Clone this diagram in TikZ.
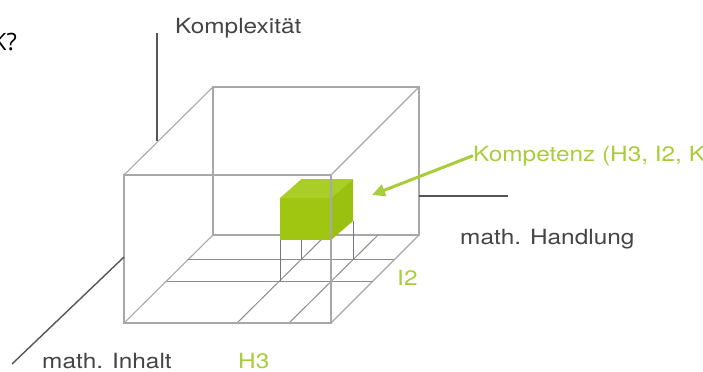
\documentclass[tikz,border=0pt]{standalone}
\usepackage{fontspec}
\setmainfont{TeX Gyre Heros}
\newfontfamily\qfont{Open Sans}
\usetikzlibrary{arrows.meta}
\definecolor{boxgray}{RGB}{168,168,168}
\definecolor{gridgray}{RGB}{140,140,140}
\definecolor{leggray}{RGB}{112,118,132}
\definecolor{axisgray}{RGB}{85,85,85}
\definecolor{txtgray}{RGB}{68,68,68}
\definecolor{lbgreen}{RGB}{168,204,58}
\definecolor{cubefront}{RGB}{160,198,18}
\definecolor{cubetop}{RGB}{170,205,40}
\definecolor{cuberight}{RGB}{154,192,16}
\tikzset{
  boxline/.style={draw=boxgray, line width=1.1bp},
  gridline/.style={draw=gridgray, line width=1bp},
  legline/.style={draw=leggray, line width=1bp},
  axisline/.style={draw=axisgray, line width=1.4bp},
  lbl/.style={inner sep=0pt, xscale=1.165, text=txtgray, font=\fontsize{21}{25}\selectfont},
  glbl/.style={inner sep=0pt, xscale=1.165, text=lbgreen, font=\fontsize{21}{25}\selectfont},
  garrow/.style={draw=lbgreen, line width=3bp, -{Triangle[length=13bp,width=12bp]}}
}
\begin{document}
\begin{tikzpicture}[x=1bp,y=-1bp]
\useasboundingbox (0,0) rectangle (703,371);
\clip (0,0) rectangle (703,371);
% box corners
\coordinate (FBL) at (124,323);
\coordinate (FBR) at (331,323);
\coordinate (FTR) at (331,175);
\coordinate (FTL) at (124,175);
\coordinate (BBL) at (213,235);
\coordinate (BBR) at (419,235);
\coordinate (BTR) at (419,87);
\coordinate (BTL) at (213,87);
% back face and connecting edges
\draw[boxline] (BBL) -- (BTL) -- (BTR) -- (BBR) -- cycle;
\draw[boxline] (FTL) -- (BTL);
\draw[boxline] (FTR) -- (BTR);
\draw[boxline] (FBL) -- (BBL);
\draw[boxline] (FBR) -- (BBR);
% floor grid
\coordinate (DA1) at (166.5,281); \coordinate (DA2) at (373,281);
\coordinate (DB1) at (188,259.5); \coordinate (DB2) at (394,259.5);
\coordinate (XA1) at (237,323); \coordinate (XA2) at (326,235);
\coordinate (XB1) at (289,323); \coordinate (XB2) at (378,235);
\draw[gridline] (DA1) -- (DA2);
\draw[gridline] (DB1) -- (DB2);
\draw[gridline] (XA1) -- (XA2);
\draw[gridline] (XB1) -- (XB2);
% cube corners
\coordinate (cFTL) at (280,198); \coordinate (cFTR) at (331,198);
\coordinate (cFBL) at (280,240); \coordinate (cFBR) at (331,240);
\coordinate (cBTL) at (301.5,179); \coordinate (cBTR) at (353,179);
\coordinate (cBBL) at (301.5,221); \coordinate (cBBR) at (353,221);
% legs
\coordinate (gFL) at (280,281); \coordinate (gFR) at (331,281);
\coordinate (gBL) at (301.5,259.5); \coordinate (gBR) at (353,259.5);
\draw[legline] (cFBL) -- (gFL);
\draw[legline] (cFBR) -- (gFR);
\draw[legline] (cBBL) -- (gBL);
\draw[legline] (cBBR) -- (gBR);
% cube faces
\fill[cubetop] (cFTL) -- (cFTR) -- (cBTR) -- (cBTL) -- cycle;
\fill[cuberight] (cFTR) -- (cBTR) -- (cBBR) -- (cFBR) -- cycle;
\fill[cubefront] (cFTL) -- (cFTR) -- (cFBR) -- (cFBL) -- cycle;
% front face
\draw[boxline] (FBL) -- (FTL) -- (FTR) -- (FBR) -- cycle;
% axes
\coordinate (kA) at (157,141); \coordinate (kB) at (157,33);
\draw[axisline] (kA) -- (kB);
\coordinate (iA) at (124,257); \coordinate (iB) at (12,364);
\draw[axisline] (iA) -- (iB);
\coordinate (hA) at (419,196); \coordinate (hB) at (508,196);
\draw[axisline] (hA) -- (hB);
% labels
\node[lbl, anchor=base west] (komplex) at (175,33) {Komplexität};
\node[lbl, anchor=base west] (handlung) at (460,244) {math. Handlung};
\node[lbl, anchor=base west] (inhalt) at (42,368) {math. Inhalt};
\node[glbl, anchor=base west] (h3) at (238,368) {H3};
\node[glbl, anchor=base west] (i2) at (397,285) {I2};
\node[glbl, anchor=base west] (komp) at (473,161) {Kompetenz (H3, I2, K3)};
\coordinate (tip) at (372,195);
\draw[garrow] (komp.west) -- (tip);
\node[inner sep=0pt, anchor=base east, font=\qfont\fontsize{24}{28}\selectfont] (frage) at (17,50) {K?};
\end{tikzpicture}
\end{document}
